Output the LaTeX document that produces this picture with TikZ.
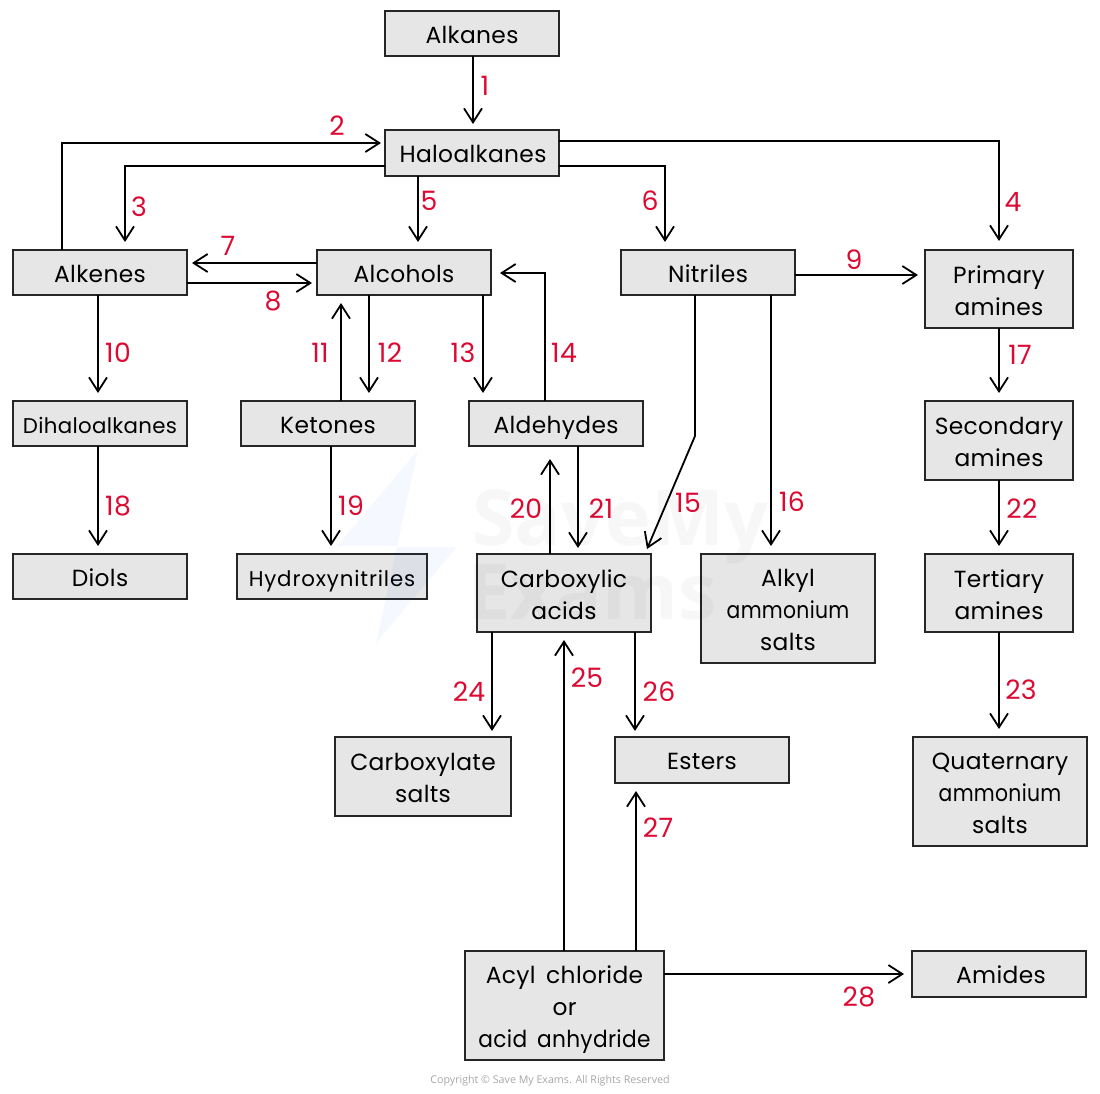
\documentclass[tikz,border=0pt]{standalone}
\usepackage{graphicx}
\usepackage{fontspec}
\setmainfont{Poppins}[LetterSpace=1.5,WordSpace=1.6]
\newfontfamily\wmfont{Open Sans}
\usetikzlibrary{arrows.meta,calc}
\newcommand{\lowstrut}{\rule[-.19\baselineskip]{0pt}{\baselineskip}}
\newcommand{\tallstrut}{\rule{0pt}{20pt}}
\tikzset{
  box/.style={draw=black!85,line width=1.1pt,fill=boxgrey,inner sep=0pt,outer sep=0pt,align=center,
    font=\fontsize{17.5}{24}\selectfont,
    execute at begin node=\lowstrut,execute at end node=\lowstrut},
  dims/.style 2 args={minimum width=#1*.75pt,minimum height=#2*.75pt},
  smalltext/.style={font=\fontsize{16}{24}\selectfont},
  arr/.style={draw=black,line width=1.35pt,-{Straight Barb[length=10.5pt,width=13.5pt,line width=1.35pt]}},
  num/.style={text=numred,font=\fontsize{20}{24}\selectfont,inner sep=0pt},
}
\definecolor{boxgrey}{HTML}{E6E6E6}
\definecolor{numred}{HTML}{DC0A32}
\begin{document}
\begin{tikzpicture}[x=.75pt,y=-.75pt]
\useasboundingbox (0,0) rectangle (1100,1093);
% boxes
\node[box,dims={174}{45}] (alkanes) at (472,33.5) {Alkanes};
\node[box,dims={174}{46}] (hal) at (472,153) {\hspace{1.5pt}Haloalkanes};
\node[box,dims={174}{45}] (alkenes) at (100,272.5) {Alkenes};
\node[box,dims={174}{45}] (alcohols) at (404,272.5) {Alcohols};
\node[box,dims={174}{45}] (nitriles) at (708,272.5) {Nitriles};
\node[box,dims={148}{78}] (primary) at (999,289) {\tallstrut Primary\\amines};
\node[box,smalltext,dims={174}{45}] (dihalo) at (100,423.5) {Dihaloalkanes};
\node[box,dims={174}{45}] (ketones) at (328,423.5) {Ketones};
\node[box,dims={174}{45}] (aldehydes) at (556,423.5) {Aldehydes};
\node[box,dims={148}{79}] (secondary) at (999,440.5) {\tallstrut Secondary\\amines};
\node[box,dims={174}{45}] (diols) at (100,576.5) {Diols};
\node[box,smalltext,dims={190}{45}] (hydroxy) at (332,576.5) {\addfontfeature{LetterSpace=4}Hydroxynitriles};
\node[box,dims={174}{78}] (carboxylic) at (564,593) {\tallstrut Carboxylic\\acids};
\node[box,dims={174}{109}] (alkyl) at (788,608.5) {\tallstrut Alkyl\\\scalebox{.87}[1]{ammonium}\\salts};
\node[box,dims={148}{78}] (tertiary) at (999,593) {\tallstrut Tertiary\\amines};
\node[box,dims={176}{79}] (carboxylate) at (423,776.5) {\tallstrut Carboxylate\\salts};
\node[box,dims={174}{46}] (esters) at (702,760) {Esters};
\node[box,dims={174}{109}] (quaternary) at (1000,791.5) {\tallstrut Quaternary\\\scalebox{.87}[1]{ammonium}\\salts};
\node[box,dims={199}{109}] (acyl) at (564.5,1005.5) {\tallstrut Acyl chloride\\or\\\scalebox{.93}[1]{acid anhydride}};
\node[box,dims={174}{46}] (amides) at (999,974) {\hspace{3pt}Amides};
% connectors
\draw[arr] ($(alkanes.south west)+(88,0)$) -- ($(hal.north west)+(88,-6)$);
\draw[arr] ($(alkenes.north west)+(49,0)$) |- ($(hal.north west)+(-4,13)$);
\draw[arr] ($(hal.south west)+(0,-10)$) -| ($(alkenes.north west)+(112,-8)$);
\draw[arr] ($(hal.north east)+(0,11)$) -| ($(primary.north west)+(74,-9)$);
\draw[arr] ($(hal.south west)+(33,0)$) -- ($(alcohols.north west)+(101,-8)$);
\draw[arr] ($(hal.south east)+(0,-10)$) -| ($(nitriles.north west)+(44,-8)$);
\draw[arr] ($(alcohols.north west)+(0,13)$) -- ($(alkenes.north east)+(5,13)$);
\draw[arr] ($(alkenes.north east)+(0,33)$) -- ($(alcohols.north west)+(-5,33)$);
\draw[arr] ($(nitriles.north east)+(0,25)$) -- ($(primary.north west)+(-7,25)$);
\draw[arr] ($(alkenes.south west)+(85,0)$) -- ($(dihalo.north west)+(85,-8)$);
\draw[arr] ($(ketones.north west)+(100,0)$) -- ($(alcohols.south west)+(24,8)$);
\draw[arr] ($(alcohols.south west)+(52,0)$) -- ($(ketones.north west)+(128,-8)$);
\draw[arr] ($(alcohols.south east)+(-8,0)$) -- ($(aldehydes.north west)+(14,-8)$);
\draw[arr] ($(aldehydes.north west)+(76,0)$) |- ($(alcohols.north east)+(9,23)$);
\draw[arr] ($(nitriles.south west)+(74,0)$) -- ($(nitriles.south west)+(74,141)$) -- ($(carboxylic.north east)+(-4,-5)$);
\draw[arr] ($(nitriles.south west)+(150,0)$) -- ($(alkyl.north west)+(70,-8)$);
\draw[arr] ($(primary.south west)+(74,0)$) -- ($(secondary.north west)+(74,-8)$);
\draw[arr] ($(dihalo.south west)+(85,0)$) -- ($(diols.north west)+(85,-8)$);
\draw[arr] ($(ketones.south west)+(90,0)$) -- ($(hydroxy.north west)+(94,-8)$);
\draw[arr] ($(carboxylic.north west)+(73,0)$) -- ($(aldehydes.south west)+(81,13)$);
\draw[arr] ($(aldehydes.south west)+(109,0)$) -- ($(carboxylic.north west)+(101,-6)$);
\draw[arr] ($(secondary.south west)+(74,0)$) -- ($(tertiary.north west)+(74,-8)$);
\draw[arr] ($(tertiary.south west)+(74,0)$) -- ($(quaternary.north west)+(86,-8)$);
\draw[arr] ($(carboxylic.south west)+(15,0)$) -- ($(carboxylate.north west)+(157,-6)$);
\draw[arr] ($(acyl.north west)+(99,0)$) -- ($(carboxylic.south west)+(87,8)$);
\draw[arr] ($(carboxylic.south west)+(158,0)$) -- ($(esters.north west)+(20,-6)$);
\draw[arr] ($(acyl.north west)+(171,0)$) -- ($(esters.south west)+(21,8)$);
\draw[arr] ($(acyl.north east)+(0,23)$) -- ($(amides.north west)+(-8,23)$);
% numbers
\node[num] (n1) at (485,86) {1};
\node[num] (n2) at (337,126) {2};
\node[num] (n3) at (139,207) {3};
\node[num] (n4) at (1013,202) {4};
\node[num] (n5) at (429,201) {5};
\node[num] (n6) at (650,201) {6};
\node[num] (n7) at (228,246) {7};
\node[num] (n8) at (273,301) {8};
\node[num] (n9) at (854,260) {9};
\node[num] (n10) at (118,353) {10};
\node[num] (n11) at (320,353) {11};
\node[num] (n12) at (390,353) {12};
\node[num] (n13) at (463,353) {13};
\node[num] (n14) at (564,353) {14};
\node[num] (n15) at (688,503) {15};
\node[num] (n16) at (792,502) {16};
\node[num] (n17) at (1020,355) {17};
\node[num] (n18) at (118,506) {18};
\node[num] (n19) at (351,506) {19};
\node[num] (n20) at (526,509) {20};
\node[num] (n21) at (601,509) {21};
\node[num] (n22) at (1022,509) {22};
\node[num] (n23) at (1021,690) {23};
\node[num] (n24) at (469,692) {24};
\node[num] (n25) at (587,678) {25};
\node[num] (n26) at (659,692) {26};
\node[num] (n27) at (658,828) {27};
\node[num] (n28) at (859,997) {28};
% watermark and copyright
\fill[blue!60!cyan,opacity=.04] (418,450) -- (337,546) -- (397,546) -- (376,643) -- (457,547) -- (397,547) -- cycle;
\node[opacity=.03,font=\wmfont\bfseries\fontsize{58}{58}\selectfont,inner sep=0pt] (wm1) at (620,527) {SaveMy};
\node[opacity=.03,font=\wmfont\bfseries\fontsize{58}{58}\selectfont,inner sep=0pt] (wm2) at (592,592) {Exams};
\node[text=black!35,font=\wmfont\fontsize{8}{10}\selectfont,inner sep=0pt] (copy) at (550,1081) {Copyright © Save My Exams. All Rights Reserved};
\end{tikzpicture}
\end{document}
